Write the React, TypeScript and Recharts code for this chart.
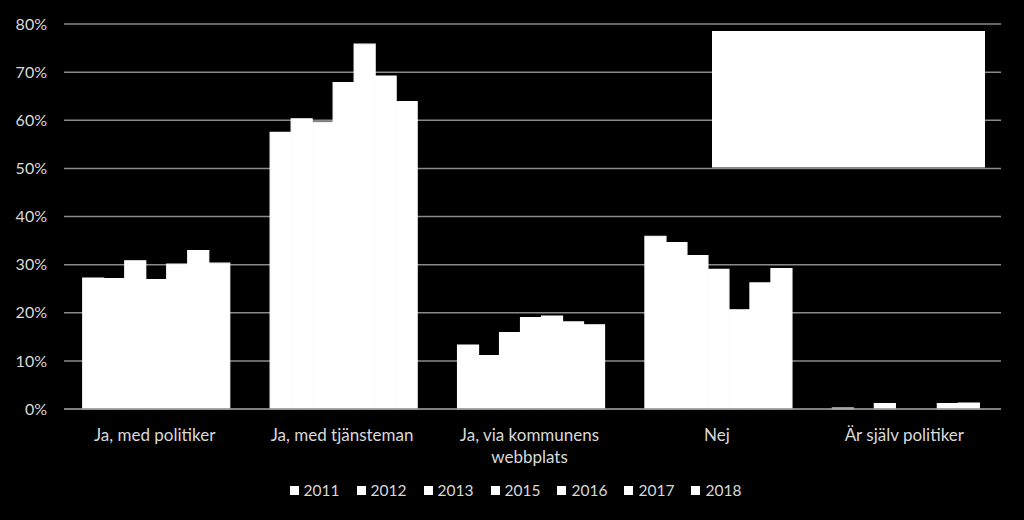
import React from 'react';
import { BarChart, Bar, XAxis, YAxis, CartesianGrid, Legend } from 'recharts';

const categories = [
  'Ja, med politiker',
  'Ja, med tjänsteman',
  'Ja, via kommunens webbplats',
  'Nej',
  'Är själv politiker',
];
const years = ['2011', '2012', '2013', '2015', '2016', '2017', '2018'];

const v2011 = [27.2, 57.5, 13.3, 35.9, 0.2];
const v2012 = [27.1, 60.3, 11.1, 34.6, 0];
const v2013 = [30.8, 59.6, 15.9, 31.9, 1.1];
const v2015 = [26.9, 67.8, 19.0, 29.0, 0];
const v2016 = [30.1, 75.8, 19.3, 20.6, 0];
const v2017 = [32.9, 69.2, 18.1, 26.2, 1.1];
const v2018 = [30.3, 63.9, 17.5, 29.2, 1.25];

const yTicks = [0, 10, 20, 30, 40, 50, 60, 70, 80];

const seriesValues = [v2011, v2012, v2013, v2015, v2016, v2017, v2018];
const data = categories.map((name, i) => {
  const row: any = { name };
  years.forEach((y, s) => { row[y] = seriesValues[s][i]; });
  return row;
});

const FONT = 'Lato, "Open Sans", sans-serif';
const TEXT = '#d9d9d9';

function wrap(label: string, max = 18) {
  const lines: string[] = [];
  let cur = '';
  label.split(' ').forEach((w) => {
    const next = cur ? cur + ' ' + w : w;
    if (next.length > max && cur) {
      lines.push(cur);
      cur = w;
    } else cur = next;
  });
  if (cur) lines.push(cur);
  return lines;
}

function CategoryTick({ x, y, payload }: any) {
  const lines = wrap(payload.value);
  return (
    <text x={x - 3} y={y} textAnchor="middle" fill={TEXT} fontSize={17} fontFamily={FONT}>
      {lines.map((l, i) => (
        <tspan key={i} x={x - 3} dy={i === 0 ? 24 : 22}>{l}</tspan>
      ))}
    </text>
  );
}

function LegendContent({ payload }: any) {
  return (
    <div style={{ display: 'flex', justifyContent: 'center', gap: 17, fontFamily: FONT, fontSize: 15.5, color: TEXT, paddingLeft: 30, lineHeight: '20px' }}>
      {(payload || []).map((p: any) => (
        <div key={p.value} style={{ display: 'flex', alignItems: 'center', gap: 5 }}>
          <div style={{ width: 9, height: 9, background: '#fff' }} />
          <span>{p.value}</span>
        </div>
      ))}
    </div>
  );
}

export default function App() {
  return (
    <div style={{ position: 'absolute', left: 0, top: 0, width: 1024, height: 520, background: '#000' }}>
      <BarChart
        width={1024}
        height={520}
        data={data}
        margin={{ top: 24, right: 23, left: 0, bottom: 31 }}
        barCategoryGap="10%"
        barGap={0}
      >
        <CartesianGrid vertical={false} stroke="#8a8a8a" strokeWidth={1.5} />
        <XAxis
          dataKey="name"
          height={60}
          axisLine={{ stroke: '#8a8a8a', strokeWidth: 1.5 }}
          tickLine={false}
          interval={0}
          tick={<CategoryTick />}
        />
        <YAxis
          width={64}
          domain={[0, 80]}
          ticks={yTicks}
          axisLine={false}
          tickLine={false}
          tickSize={0}
          tickMargin={17}
          tickFormatter={(v) => `${v}%`}
          tick={{ fill: TEXT, fontSize: 16, fontFamily: FONT }}
        />
        <Legend
          verticalAlign="bottom"
          wrapperStyle={{ bottom: 20 }}
          content={<LegendContent />}
        />
        {years.map((y) => (
          <Bar key={y} dataKey={y} fill="#ffffff" stroke="#ffffff" strokeWidth={1.2} isAnimationActive={false} />
        ))}
      </BarChart>
      <div style={{ position: 'absolute', left: 712, top: 31, width: 273, height: 136, background: '#fff', borderBottom: '1px solid #888' }} />
    </div>
  );
}
